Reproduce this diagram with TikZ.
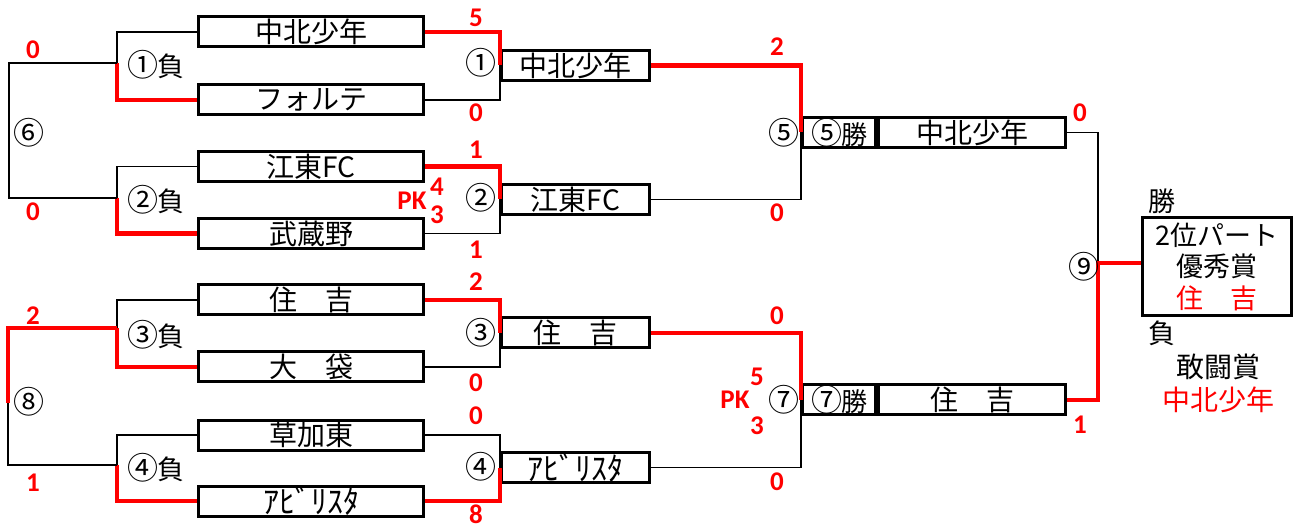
\documentclass[tikz,border=0pt]{standalone}
\usepackage{fontspec}
\newfontfamily\jp{Noto Sans CJK JP}
\newfontfamily\numf{Carlito}
\newcommand{\cnum}[1]{{\fontsize{31}{31}\selectfont #1}}
\newcommand{\hk}[1]{{\fontsize{32}{32}\selectfont #1}}
\begin{document}
\begin{tikzpicture}[x=1pt,y=-1pt,
  team/.style={draw=black,line width=3pt,minimum height=30pt,inner sep=0pt,font=\jp\fontsize{28}{28}\selectfont},
  wire/.style={line width=1.2pt,black},
  win/.style={line width=4.5pt,red,line join=miter},
  score/.style={text=red,font=\numf\bfseries\fontsize{27}{27}\selectfont,inner sep=0pt},
  lbl/.style={font=\jp\fontsize{27}{27}\selectfont,inner sep=0pt},
]
\useasboundingbox (0,0) rectangle (1302,529);
% round 1 boxes
\node[team,minimum width=225pt] (a1) at (311,32) {中北少年};
\node[team,minimum width=225pt] (a2) at (311,100) {フォルテ};
\node[team,minimum width=225pt] (a3) at (311,166.5) {江東FC};
\node[team,minimum width=225pt] (a4) at (311,233.5) {武蔵野};
\node[team,minimum width=225pt] (a5) at (311,300) {住　吉};
\node[team,minimum width=225pt] (a6) at (311,367) {大　袋};
\node[team,minimum width=225pt] (a7) at (311,435) {草加東};
\node[team,minimum width=225pt] (a8) at (311,501) {\hk{ｱﾋﾞﾘｽﾀ}};
% round 2 boxes
\node[team,minimum width=148pt] (b1) at (575.5,65.5) {中北少年};
\node[team,minimum width=148pt] (b2) at (575.5,199.5) {江東FC};
\node[team,minimum width=148pt] (b3) at (575.5,333) {住　吉};
\node[team,minimum width=148pt] (b4) at (575.5,467.5) {\hk{ｱﾋﾞﾘｽﾀ}};
% round 3 boxes
\node[team,minimum width=73pt,font=\jp\fontsize{26}{26}\selectfont] (c1l) at (839,132.5) {\cnum{⑤}\kern-1pt 勝};
\node[team,minimum width=187pt] (c1) at (972,132.5) {中北少年};
\node[team,minimum width=73pt,font=\jp\fontsize{26}{26}\selectfont] (c2l) at (839,400) {\cnum{⑦}\kern-1pt 勝};
\node[team,minimum width=187pt] (c2) at (972,400) {住　吉};
% final box
\node[draw=black,line width=3pt,minimum width=149pt,minimum height=98pt,inner sep=0pt,align=center,
  font=\jp\fontsize{27}{31.5}\selectfont] (f) at (1217,266.5) {2位パート\\優秀賞\\\textcolor{red}{住　吉}};

% coordinates
\coordinate (l1) at (117,63);
\coordinate (l2) at (117,198);
\coordinate (l3) at (117,328);
\coordinate (l4) at (117,465);
\coordinate (m6) at (9,130.5);
\coordinate (m8) at (8,403);
\coordinate (m9) at (1098,263);

% loser bracket (left)
\draw[wire] (a1.west) -| (l1);
\draw[win] (a2.west) -| (l1);
\draw[wire] (a3.west) -| (l2);
\draw[win] (a4.west) -| (l2);
\draw[wire] (a5.west) -| (l3);
\draw[win] (a6.west) -| (l3);
\draw[wire] (a7.west) -| (l4);
\draw[win] (a8.west) -| (l4);
\draw[wire] (l1) -| (m6);
\draw[wire] (l2) -| (m6);
\draw[wire] (l4) -| (m8);
\draw[win] (l3) -| (m8);

% winner bracket
\draw[wire] (a2.east) -| (b1.west);
\draw[win] (a1.east) -| (b1.west);
\draw[wire] (a4.east) -| (b2.west);
\draw[win] (a3.east) -| (b2.west);
\draw[wire] (a6.east) -| (b3.west);
\draw[win] (a5.east) -| (b3.west);
\draw[wire] (a7.east) -| (b4.west);
\draw[win] (a8.east) -| (b4.west);

\draw[wire] (b2.east) -| (c1l.west);
\draw[win] (b1.east) -| (c1l.west);
\draw[wire] (b4.east) -| (c2l.west);
\draw[win] (b3.east) -| (c2l.west);

\draw[wire] (c1.east) -| (m9);
\draw[win] (c2.east) -| (m9) -- (m9 -| f.west);

% match labels
\node[lbl] (t1) at (156,65) {\cnum{①}\kern-1pt 負};
\node[lbl] (t2) at (156,200) {\cnum{②}\kern-1pt 負};
\node[lbl] (t3) at (156,335) {\cnum{③}\kern-1pt 負};
\node[lbl] (t4) at (156,468) {\cnum{④}\kern-1pt 負};
\node[lbl] (t6) at (29,133) {\cnum{⑥}};
\node[lbl] (t8) at (29,402) {\cnum{⑧}};
\node[lbl] (u1) at (481,63) {\cnum{①}};
\node[lbl] (u2) at (481,198) {\cnum{②}};
\node[lbl] (u3) at (481,333) {\cnum{③}};
\node[lbl] (u4) at (481,467) {\cnum{④}};
\node[lbl] (u5) at (784,133) {\cnum{⑤}};
\node[lbl] (u7) at (784,400) {\cnum{⑦}};
\node[lbl] (u9) at (1084,267) {\cnum{⑨}};
\node[lbl] (w) at (1162,201) {勝};
\node[lbl] (lz) at (1162,333) {負};
\node[lbl,font=\jp\fontsize{28}{28}\selectfont] (kt) at (1218,367) {敢闘賞};
\node[lbl,font=\jp\fontsize{28}{28}\selectfont,text=red] (kn) at (1218,400) {中北少年};

% scores
\node[score] (s1) at (33,50) {0};
\node[score] (s2) at (33,212) {0};
\node[score] (s3) at (33,316) {2};
\node[score] (s4) at (33,483) {1};
\node[score] (s5) at (476,18) {5};
\node[score] (s6) at (476,113) {0};
\node[score] (s7) at (476,150) {1};
\node[score] (s8) at (476,250) {1};
\node[score] (s9) at (437,187) {4};
\node[score] (s10) at (412,201) {PK};
\node[score] (s11) at (437,215) {3};
\node[score] (s12) at (476,282) {2};
\node[score] (s13) at (476,383) {0};
\node[score] (s14) at (476,416) {0};
\node[score] (s15) at (476,514) {8};
\node[score] (s16) at (777,47) {2};
\node[score] (s17) at (777,213) {0};
\node[score] (s18) at (777,316) {0};
\node[score] (s19) at (757,377) {5};
\node[score] (s20) at (735,400) {PK};
\node[score] (s21) at (757,426) {3};
\node[score] (s22) at (777,482) {0};
\node[score] (s23) at (1080,113) {0};
\node[score] (s24) at (1080,425) {1};
\end{tikzpicture}
\end{document}
